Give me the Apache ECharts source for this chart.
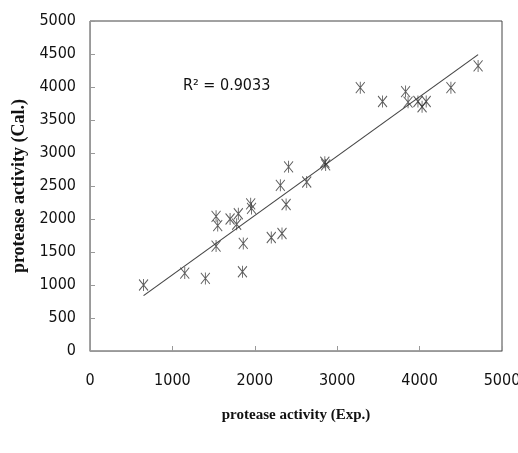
<!DOCTYPE html>
<html><head><meta charset="utf-8">
<script src="https://cdn.jsdelivr.net/npm/echarts@6/dist/echarts.min.js"></script>
<style>html,body{margin:0;padding:0;background:#fff}#c{width:518px;height:453px}</style>
</head><body><div id="c"></div>
<script>
// Experimental vs calculated protease activity
const expValues = [650,1150,1400,1850,1530,1860,1530,1550,1700,1800,1780,1950,1960,2200,2330,2380,2310,2410,2630,2850,2860,3280,3550,3830,3860,3980,4030,4080,4380,4710];
const calValues = [1000,1180,1100,1200,1590,1630,2040,1900,2000,2080,1920,2230,2160,1720,1780,2220,2510,2790,2560,2860,2820,3990,3780,3930,3770,3780,3700,3780,3990,4320];
const xTicks = [0,1000,2000,3000,4000,5000];
const yTicks = [0,500,1000,1500,2000,2500,3000,3500,4000,4500,5000];
const r2Label = 'R² = 0.9033';

// linear regression (trendline)
const n = expValues.length;
const mx = expValues.reduce((a,b)=>a+b,0)/n;
const my = calValues.reduce((a,b)=>a+b,0)/n;
let sxy=0,sxx=0;
for(let i=0;i<n;i++){sxy+=(expValues[i]-mx)*(calValues[i]-my);sxx+=(expValues[i]-mx)**2;}
const slope=sxy/sxx, intercept=my-slope*mx;
const xMin=Math.min(...expValues), xMax=Math.max(...expValues);
const trend=[[xMin,intercept+slope*xMin],[xMax,intercept+slope*xMax]];

const points = expValues.map((x,i)=>[x,calValues[i]]);
const labelFont = '"Liberation Sans Narrow","DejaVu Sans Condensed",sans-serif';
const titleFont = '"Liberation Serif","Times New Roman",serif';
const chart = echarts.init(document.getElementById('c'),null,{renderer:'canvas'});
chart.setOption({
  animation:false,
  grid:{left:90,right:16,top:21,bottom:102,show:true,borderColor:'#444',borderWidth:1,containLabel:false,outerBoundsMode:'none'},
  xAxis:{type:'value',min:xTicks[0],max:xTicks[xTicks.length-1],interval:xTicks[1]-xTicks[0],
    axisLine:{show:true,onZero:false,lineStyle:{color:'#999'}},
    axisTick:{show:true,inside:true,length:5,lineStyle:{color:'#999'}},
    splitLine:{show:false},
    axisLabel:{margin:22,fontSize:16,color:'#111',fontFamily:labelFont,formatter:v=>String(v)},
    name:'protease activity (Exp.)',nameLocation:'middle',nameGap:57,
    nameTextStyle:{fontFamily:titleFont,fontWeight:'bold',fontSize:15,color:'#111'}},
  yAxis:{type:'value',min:yTicks[0],max:yTicks[yTicks.length-1],interval:yTicks[1]-yTicks[0],
    axisLine:{show:true,lineStyle:{color:'#999'}},
    axisTick:{show:true,inside:true,length:5,lineStyle:{color:'#999'}},
    splitLine:{show:false},
    axisLabel:{margin:14,fontSize:16,color:'#111',fontFamily:labelFont,formatter:v=>String(v)},
    name:'protease activity (Cal.)',nameLocation:'middle',nameGap:62,
    nameTextStyle:{fontFamily:titleFont,fontWeight:'bold',fontSize:18,color:'#111'}},
  series:[
    {type:'line',data:trend,symbol:'none',lineStyle:{color:'#444',width:1.2},z:2,silent:true},
    {type:'scatter',data:points,
     symbol:'path://M0,-6L0,6M-4.5,-5.5L4.5,5.5M-4.5,5.5L4.5,-5.5',symbolSize:[9,12],
     itemStyle:{color:'rgba(0,0,0,0)',borderColor:'#333',borderWidth:1},z:3}
  ],
  graphic:[{type:'text',left:183,top:78,style:{text:r2Label,fontSize:16,fontFamily:labelFont,fill:'#111'}}]
});
</script></body></html>
